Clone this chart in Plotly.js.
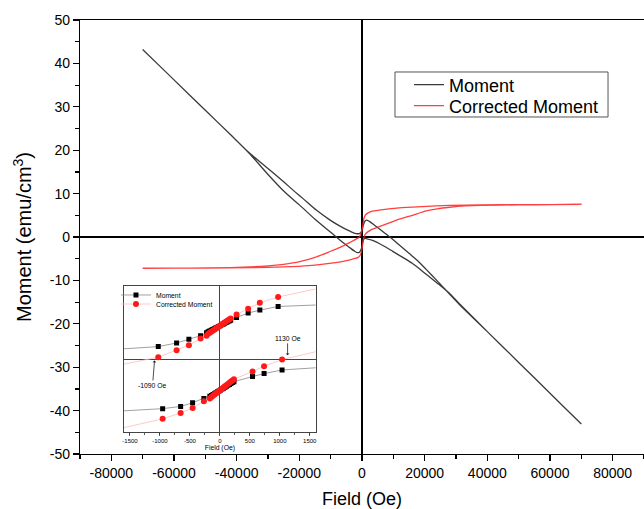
<!DOCTYPE html>
<html>
<head>
<meta charset="utf-8">
<script src="https://cdn.plot.ly/plotly-3.0.1.min.js"></script>
<style>html,body{margin:0;padding:0;background:#fff;}#chart{width:644px;height:509px;}</style>
</head>
<body>
<div id="chart"></div>
<script>
// ---- Main chart: hysteresis loops (Field in Oe, Moment in emu/cm^3) ----
// Moment: ascending branch (-70000 -> +70000) then descending branch (+70000 -> -70000)
const momentField = [-70000, -60000, -50000, -42000, -36000, -30000, -25000, -20000, -15000, -10000, -6000, -4000,
                     -2500, -1500, -800, -300, 100, 400, 800, 1300, 3400, 6500, 9800, 13000, 16100, 19000, 21400,
                     24500, 27800, 31000, 40000, 50000, 60000, 70000,
                     60000, 50000, 40000, 31000, 28000, 24000, 20400, 17500, 15100, 12000, 8700, 6000, 4000, 2350,
                     1400, 900, 500, 150, -200, -700, -1500, -2500, -4000, -6000, -8000, -10400, -14600, -18900,
                     -22000, -25300, -30000, -36000, -42000, -50000, -60000, -70000];
const momentValue = [43.2, 36.2, 29.2, 23.6, 19.3, 14.4, 10.6, 7.4, 4.1, 1.1, -1.3, -2.4,
                     -3.2, -3.6, -3.5, -2.9, -1.8, -0.8, -0.3, -0.35, -0.8, -1.9, -3.3, -4.7, -6.1, -7.7, -9.1,
                     -10.9, -12.9, -15.3, -21.8, -28.9, -36.0, -43.1,
                     -36.0, -28.9, -21.8, -15.5, -13.2, -10.1, -7.4, -5.3, -3.8, -1.9, 0.1, 1.6, 2.7, 3.6,
                     3.9, 3.6, 2.9, 1.9, 1.2, 0.85, 0.75, 0.9, 1.4, 2.1, 2.9, 4.0, 6.2, 8.9,
                     10.8, 12.9, 15.8, 19.4, 23.6, 29.2, 36.2, 43.2];

// Corrected Moment: ascending then descending
const correctedField = [-70000, -50000, -35000, -25000, -20000, -15000, -10400, -6000, -3000, -1200, -500, 0, 300,
                        700, 1300, 3000, 5500, 8500, 11900, 16100, 20500, 24000, 28000, 33000, 38000, 50000, 70000,
                        50000, 38000, 28000, 19200, 11900, 5500, 3000, 1800, 1100, 600, 200, -300, -830, -4000,
                        -7000, -10400, -15000, -19900, -25000, -30000, -42100, -55000, -70000];
const correctedValue = [-7.2, -7.15, -7.05, -6.9, -6.75, -6.5, -6.1, -5.6, -5.1, -4.7, -4.1, -2.8, -1.2,
                        0.1, 0.85, 1.7, 2.4, 3.2, 4.1, 5.0, 6.0, 6.5, 6.85, 7.15, 7.3, 7.4, 7.5,
                        7.45, 7.4, 7.3, 7.0, 6.7, 6.2, 5.9, 5.5, 5.1, 4.2, 2.5, 0.9, 0.0, -1.3,
                        -2.4, -3.4, -4.7, -5.7, -6.3, -6.65, -7.05, -7.15, -7.2];

// ---- Inset: low-field region ----
const insetUpperField = [-1028, -722, -517, -322, -222, -195, -170, -145, -120, -95, -70, -45, -20, 5, 30, 55, 80,
                         105, 130, 155, 180, 278, 472, 667, 972];
const insetUpperMoment = [1.7, 2.2, 2.7, 3.2, 3.6, 3.72, 3.83, 3.93, 4.04, 4.15, 4.25, 4.36, 4.46, 4.57, 4.68, 4.78,
                          4.89, 4.99, 5.10, 5.20, 5.31, 5.7, 6.3, 6.7, 7.2];
const insetUpperCorrected = [0.25, 1.2, 1.9, 2.8, 3.2, 3.45, 3.60, 3.73, 3.87, 4.02, 4.15, 4.30, 4.43, 4.58, 4.72,
                             4.86, 5.00, 5.13, 5.28, 5.41, 5.56, 6.1, 6.9, 7.7, 8.5];
const insetLowerField = [-955, -655, -455, -267, -167, -140, -115, -90, -65, -40, -15, 10, 35, 60, 85, 110, 135,
                         160, 185, 210, 235, 545, 738, 1038];
const insetLowerMoment = [-6.8, -6.5, -6.0, -5.4, -5.1, -5.0, -4.87, -4.75, -4.62, -4.49, -4.37, -4.24, -4.11, -3.99,
                          -3.86, -3.73, -3.61, -3.48, -3.35, -3.23, -3.10, -2.4, -2.0, -1.5];
const insetLowerCorrected = [-8.2, -7.4, -6.7, -5.8, -5.4, -5.19, -5.03, -4.87, -4.71, -4.55, -4.39, -4.23, -4.06,
                             -3.91, -3.74, -3.58, -3.42, -3.26, -3.09, -2.94, -2.78, -1.7, -1.0, -0.07];
// line ends beyond the marked points (left edge, right edge) for [upper, lower] branches
const insetEdgeField = [-1600, 1600];
const insetMomentEdges = [[1.4, 7.4], [-7.1, -1.2]];
const insetCorrectedEdges = [[-0.7, 9.6], [-9.4, 1.0]];

const xTickVals = [-80000, -60000, -40000, -20000, 0, 20000, 40000, 60000, 80000];
const xTickText = ["-80000", "-60000", "-40000", "-20000", "0", "20000", "40000", "60000", "80000"];
const yTickVals = [-50, -40, -30, -20, -10, 0, 10, 20, 30, 40, 50];
const yTickText = ["-50", "-40", "-30", "-20", "-10", "0", "10", "20", "30", "40", "50"];
const insetTickVals = [-1500, -1000, -500, 0, 500, 1000, 1500];
const insetTickText = ["-1500", "-1000", "-500", "0", "500", "1000", "1500"];

const FONT = "Liberation Sans, Arial, sans-serif";

function joinBranches(a, b) { return a.concat([null], b); }
function edgeSegments(upF, upV, loF, loV, edges) {
  const xs = [], ys = [];
  const br = [[upF, upV, edges[0]], [loF, loV, edges[1]]];
  br.forEach(([f, v, e]) => {
    xs.push(insetEdgeField[0], f[0], null, f[f.length - 1], insetEdgeField[1], null);
    ys.push(e[0], v[0], null, v[v.length - 1], e[1], null);
  });
  return {x: xs, y: ys};
}
const mEdge = edgeSegments(insetUpperField, insetUpperMoment, insetLowerField, insetLowerMoment, insetMomentEdges);
const cEdge = edgeSegments(insetUpperField, insetUpperCorrected, insetLowerField, insetLowerCorrected, insetCorrectedEdges);

const traces = [
  {x: momentField, y: momentValue, mode: 'lines', name: 'Moment',
   line: {color: '#3a3a3a', width: 1.3, shape: 'spline', smoothing: 0.8},
   xaxis: 'x', yaxis: 'y', legend: 'legend'},
  {x: correctedField, y: correctedValue, mode: 'lines', name: 'Corrected Moment',
   line: {color: 'rgba(255,30,30,0.85)', width: 1.3, shape: 'spline', smoothing: 0.5},
   xaxis: 'x', yaxis: 'y', legend: 'legend2'},
  {x: mEdge.x, y: mEdge.y, mode: 'lines', showlegend: false, line: {color: '#888', width: 0.8},
   xaxis: 'x2', yaxis: 'y2'},
  {x: cEdge.x, y: cEdge.y, mode: 'lines', showlegend: false, line: {color: '#fbb', width: 0.8},
   xaxis: 'x2', yaxis: 'y2'},
  {x: joinBranches(insetUpperField, insetLowerField), y: joinBranches(insetUpperMoment, insetLowerMoment),
   mode: 'lines+markers', name: 'Moment', line: {color: '#888', width: 0.8},
   marker: {symbol: 'square', size: 5, color: '#000'}, xaxis: 'x2', yaxis: 'y2', legend: 'legend3'},
  {x: joinBranches(insetUpperField, insetLowerField), y: joinBranches(insetUpperCorrected, insetLowerCorrected),
   mode: 'lines+markers', name: 'Corrected Moment', line: {color: '#fbb', width: 0.8},
   marker: {symbol: 'circle', size: 6, color: '#ff1a1a'}, xaxis: 'x2', yaxis: 'y2', legend: 'legend4'}
];

const mainLegendCommon = {xanchor: 'left', yanchor: 'middle', bgcolor: 'rgba(0,0,0,0)', borderwidth: 0,
                          font: {size: 18, family: FONT}};
const insetLegendCommon = {xanchor: 'left', yanchor: 'middle', bgcolor: 'rgba(0,0,0,0)', borderwidth: 0,
                           font: {size: 6.8, family: FONT}};

const layout = {
  width: 644, height: 509,
  margin: {l: 80, r: 0, t: 20, b: 55},
  paper_bgcolor: '#fff', plot_bgcolor: '#fff',
  font: {family: FONT, color: '#000'},
  showlegend: true,
  xaxis: {
    range: [-90000, 90000], tickvals: xTickVals, ticktext: xTickText,
    ticks: 'outside', ticklen: 6, tickwidth: 1.2, tickcolor: '#000',
    minor: {dtick: 10000, tick0: 0, ticks: 'outside', ticklen: 4, tickwidth: 1.2, tickcolor: '#000', showgrid: false},
    showline: true, linecolor: '#000', linewidth: 1.2, mirror: true,
    showgrid: false, zeroline: true, zerolinecolor: '#000', zerolinewidth: 1.5,
    tickfont: {size: 14, family: FONT},
    title: {text: 'Field (Oe)', font: {size: 18, family: FONT}, standoff: 12}
  },
  yaxis: {
    range: [-50, 50], tickvals: yTickVals, ticktext: yTickText,
    ticks: 'outside', ticklen: 6, tickwidth: 1.2, tickcolor: '#000',
    minor: {dtick: 5, tick0: 0, ticks: 'outside', ticklen: 4, tickwidth: 1.2, tickcolor: '#000', showgrid: false},
    showline: true, linecolor: '#000', linewidth: 1.2, mirror: false,
    showgrid: false, zeroline: true, zerolinecolor: '#000', zerolinewidth: 1.5,
    tickfont: {size: 14, family: FONT},
    title: {text: 'Moment (emu/cm<sup>3</sup>)', font: {size: 20, family: FONT}, standoff: 12}
  },
  xaxis2: {
    domain: [0.078, 0.418], anchor: 'y2', range: [-1600, 1600],
    tickvals: insetTickVals, ticktext: insetTickText,
    ticks: 'outside', ticklen: 3, tickwidth: 0.8, tickcolor: '#333',
    minor: {dtick: 250, tick0: 0, ticks: 'outside', ticklen: 2, tickwidth: 0.8, tickcolor: '#333', showgrid: false},
    showline: true, linecolor: '#444', linewidth: 1, mirror: true,
    showgrid: false, zeroline: true, zerolinecolor: '#444', zerolinewidth: 1,
    tickfont: {size: 6, family: FONT},
    title: {text: 'Field (Oe)', font: {size: 6.8, family: FONT}, standoff: 2}
  },
  yaxis2: {
    domain: [0.0507, 0.387], anchor: 'x2', range: [-10, 10],
    showticklabels: false, ticks: '',
    showline: true, linecolor: '#444', linewidth: 1, mirror: true,
    showgrid: false, zeroline: true, zerolinecolor: '#444', zerolinewidth: 1
  },
  legend: Object.assign({x: 0.5833, y: 0.8502}, mainLegendCommon),
  legend2: Object.assign({x: 0.5833, y: 0.8018}, mainLegendCommon),
  legend3: Object.assign({x: 0.0638, y: 0.3664}, insetLegendCommon),
  legend4: Object.assign({x: 0.0638, y: 0.3456}, insetLegendCommon),
  shapes: [
    {type: 'rect', xref: 'paper', yref: 'paper', x0: 0.5585, x1: 0.9362, y0: 0.7765, y1: 0.8802,
     line: {color: '#555', width: 1}, fillcolor: 'rgba(0,0,0,0)', layer: 'below'}
  ],
  annotations: [
    {xref: 'x2', yref: 'y2', x: 1130, y: 0.5, ax: 0, ay: -17, text: '1130 Oe', showarrow: true,
     arrowhead: 1, arrowsize: 0.8, arrowwidth: 0.8, arrowcolor: '#222', font: {size: 6.8, family: FONT}},
    {xref: 'x2', yref: 'y2', x: -1090, y: -0.2, ax: -2, ay: 25, text: '-1090 Oe', showarrow: true,
     arrowhead: 1, arrowsize: 0.8, arrowwidth: 0.8, arrowcolor: '#222', font: {size: 6.8, family: FONT}}
  ]
};

Plotly.newPlot('chart', traces, layout, {displayModeBar: false, staticPlot: true});
</script>
</body>
</html>
